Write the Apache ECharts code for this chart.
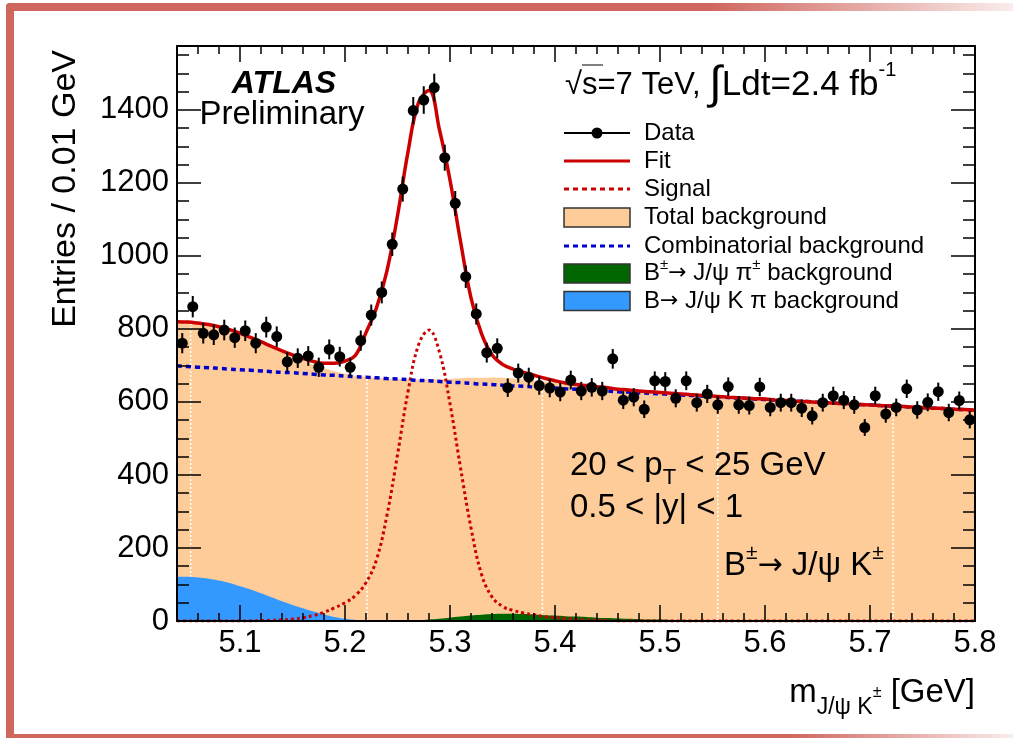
<!DOCTYPE html>
<html><head><meta charset="utf-8">
<script src="https://cdn.jsdelivr.net/npm/echarts@6/dist/echarts.min.js"></script>
<style>html,body{margin:0;padding:0;background:#fff}#c{width:1013px;height:738px}</style>
</head><body><div id="c"></div>
<script>
// ---------- data ----------
const binCenters = [5.045,5.055,5.065,5.075,5.085,5.095,5.105,5.115,5.125,5.135,5.145,5.155,5.165,5.175,5.185,5.195,5.205,5.215,5.225,5.235,5.245,5.255,5.265,5.275,5.285,5.295,5.305,5.315,5.325,5.335,5.345,5.355,5.365,5.375,5.385,5.395,5.405,5.415,5.425,5.435,5.445,5.455,5.465,5.475,5.485,5.495,5.505,5.515,5.525,5.535,5.545,5.555,5.565,5.575,5.585,5.595,5.605,5.615,5.625,5.635,5.645,5.655,5.665,5.675,5.685,5.695,5.705,5.715,5.725,5.735,5.745,5.755,5.765,5.775,5.785,5.795];
const entries = [761,861,788,784,797,776,795,761,805,779,710,720,726,695,744,724,695,768,838,900,1032,1183,1398,1427,1461,1269,1144,943,841,735,747,639,679,668,645,638,627,660,630,640,630,718,605,613,580,658,656,610,658,598,622,592,642,592,590,641,585,598,598,583,562,598,617,605,592,530,617,567,585,636,578,599,628,571,604,551];

const massGrid = [5.04,5.05,5.06,5.07,5.08,5.09,5.10,5.11,5.12,5.13,5.14,5.15,5.16,5.17,5.18,5.19,5.20,5.21,5.22,5.23,5.24,5.25,5.26,5.27,5.28,5.29,5.30,5.31,5.32,5.33,5.34,5.35,5.36,5.37,5.38,5.39,5.40,5.41,5.42,5.43,5.44,5.45,5.46,5.47,5.48,5.49,5.50,5.51,5.52,5.53,5.54,5.55,5.56,5.57,5.58,5.59,5.60,5.61,5.62,5.63,5.64,5.65,5.66,5.67,5.68,5.69,5.70,5.71,5.72,5.73,5.74,5.75,5.76,5.77,5.78,5.79,5.80];
const fitCurve = [820,819,816,812,806,798,788,777,765,752,740,729,719,711,706,706,712,728,790,858,960,1110,1285,1420,1453,1345,1208,1040,885,787,729,703,690,681,673,665,658,652,648,645,642,639,635,633,630,628,626,624,622,620,618,616,614,612,611,609,608,605,604,602,601,599,598,596,595,593,592,590,589,588,586,585,583,582,580,579,577];
const signalCurve = [0,0,0,0,0,0,0,0,1,2,3,5,9,15,24,36,50,70,105,168,290,455,628,756,797,736,595,420,255,128,66,40,29,22,17,12,9,7,5,3,2,1,0,0,0,0,0,0,0,0,0,0,0,0,0,0,0,0,0,0,0,0,0,0,0,0,0,0,0,0,0,0,0,0,0,0,0];
const combBkg = [699,697,695,694,692,690,688,687,685,683,681,680,678,676,674,673,671,669,668,666,664,663,661,659,658,656,654,653,651,649,648,646,644,643,641,640,638,636,635,633,632,630,628,627,625,624,622,621,619,618,616,614,613,611,610,608,607,605,604,602,601,599,598,596,595,593,592,590,589,588,586,585,583,582,580,579,577];
const kpiBkg = [121,121,119,116,111,104,95,86,76,65,54,44,35,26,18,11,6,3,1,0,0,0,0,0,0,0,0,0,0,0,0,0,0,0,0,0,0,0,0,0,0,0,0,0,0,0,0,0,0,0,0,0,0,0,0,0,0,0,0,0,0,0,0,0,0,0,0,0,0,0,0,0,0,0,0,0,0];
const jpsipiBkg = [0,0,0,0,0,0,0,0,0,0,0,0,0,0,0,0,0,0,0,0,0,0,1,2,4,6,9,12,15,17,19,20,20,19,18,16,15,13,12,11,9,8,7,6,5,4,4,3,3,2,2,2,1,1,1,1,1,0,0,0,0,0,0,0,0,0,0,0,0,0,0,0,0,0,0,0,0];
const gapLines = [5.053,5.221,5.388,5.555,5.722];

const xMajorTicks = [5.1,5.2,5.3,5.4,5.5,5.6,5.7,5.8];
const xMinorTicks = [5.06,5.08,5.10,5.12,5.14,5.16,5.18,5.20,5.22,5.24,5.26,5.28,5.30,5.32,5.34,5.36,5.38,5.40,5.42,5.44,5.46,5.48,5.50,5.52,5.54,5.56,5.58,5.60,5.62,5.64,5.66,5.68,5.70,5.72,5.74,5.76,5.78];
const yMajorTicks = [0,200,400,600,800,1000,1200,1400];
const yMinorTicks = [50,100,150,200,250,300,350,400,450,500,550,600,650,700,750,800,850,900,950,1000,1050,1100,1150,1200,1250,1300,1350,1400,1450,1500,1550];

// ---------- styling ----------
const FONT = "'Liberation Sans', Arial, Helvetica, sans-serif";
const ORANGE = '#FECC99', KPI = '#3399FF', GREEN = '#006600', RED = '#CC0000', BLUE = '#0000CC';
const XMIN = 5.04, XMAX = 5.8, YMIN = 0, YMAX = 1575;

function xAx(pos, ticks, len, labels, line) {
  return {
    type: 'value', min: XMIN, max: XMAX, position: pos, gridIndex: 0, z: 50,
    axisLine: { show: line, onZero: false, lineStyle: { color: '#000', width: 2 } },
    axisTick: { show: true, inside: true, length: len, customValues: ticks, lineStyle: { color: '#000', width: 1.5 } },
    axisLabel: labels ? { show: true, customValues: xMajorTicks, formatter: v => String(+(+v).toFixed(2)), fontSize: 31, color: '#000', fontFamily: FONT, margin: 7 } : { show: false },
    splitLine: { show: false }, minorTick: { show: false }, silent: true
  };
}
function yAx(pos, ticks, len, labels, line) {
  return {
    type: 'value', min: YMIN, max: YMAX, position: pos, gridIndex: 0, z: 50,
    axisLine: { show: line, onZero: false, lineStyle: { color: '#000', width: 2 } },
    axisTick: { show: true, inside: true, length: len, customValues: ticks, lineStyle: { color: '#000', width: 1.5 } },
    axisLabel: labels ? { show: true, customValues: yMajorTicks, formatter: v => String(Math.round(v)), fontSize: 31, color: '#000', fontFamily: FONT, margin: 8 } : { show: false },
    splitLine: { show: false }, minorTick: { show: false }, silent: true
  };
}

const curve = arr => massGrid.map((x, i) => [x, arr[i]]);
const totalBkg = combBkg.map((v, i) => v + kpiBkg[i] + jpsipiBkg[i]);

const chart = echarts.init(document.getElementById('c'), null, { renderer: 'canvas' });

const legendRows = [
  { y: 133, kind: 'data', text: 'Data' },
  { y: 161, kind: 'fit', text: 'Fit' },
  { y: 189, kind: 'sig', text: 'Signal' },
  { y: 217.5, kind: 'box', color: ORANGE, text: 'Total background' },
  { y: 246, kind: 'comb', text: 'Combinatorial background' },
  { y: 273.5, kind: 'box', color: GREEN, text: '{t|B}{sup|±}{a|→}{t| J/ψ π}{sup|±}{t| background}' },
  { y: 301, kind: 'box', color: KPI, text: '{t|B}{a|→}{t| J/ψ K π background}' }
];
const legendRich = {
  t: { fontSize: 24, fontFamily: FONT, lineHeight: 32, verticalAlign: 'middle' },
  a: { fontSize: 22, fontFamily: "'DejaVu Sans', sans-serif", lineHeight: 32, verticalAlign: 'middle' },
  sup: { fontSize: 15, fontFamily: FONT, lineHeight: 15, verticalAlign: 'top' }
};
const LX0 = 564, LX1 = 630, LTX = 644;
const legendEls = [];
legendRows.forEach(r => {
  if (r.kind === 'data') {
    legendEls.push({ type: 'line', shape: { x1: LX0, y1: r.y, x2: LX1, y2: r.y }, style: { stroke: '#000', lineWidth: 2 } });
    legendEls.push({ type: 'circle', shape: { cx: (LX0 + LX1) / 2, cy: r.y, r: 5.5 }, style: { fill: '#000' } });
  } else if (r.kind === 'fit') {
    legendEls.push({ type: 'line', shape: { x1: LX0, y1: r.y, x2: LX1, y2: r.y }, style: { stroke: RED, lineWidth: 3 } });
  } else if (r.kind === 'sig') {
    legendEls.push({ type: 'line', shape: { x1: LX0, y1: r.y, x2: LX1, y2: r.y }, style: { stroke: RED, lineWidth: 3, lineDash: [5, 4] } });
  } else if (r.kind === 'comb') {
    legendEls.push({ type: 'line', shape: { x1: LX0, y1: r.y, x2: LX1, y2: r.y }, style: { stroke: BLUE, lineWidth: 3, lineDash: [5, 4] } });
  } else {
    legendEls.push({ type: 'rect', shape: { x: LX0, y: r.y - 9.5, width: LX1 - LX0, height: 19 }, style: { fill: r.color, stroke: '#333', lineWidth: 1.5 } });
  }
  const isRich = r.text.indexOf('{') === 0;
  legendEls.push({ type: 'text', x: LTX, y: r.y, style: {
    text: r.text, fontSize: 24, fontFamily: FONT, fill: '#000',
    align: 'left', textAlign: 'left', verticalAlign: 'middle', textVerticalAlign: 'middle',
    rich: isRich ? legendRich : undefined } });
});

const frameColor = '#D0675F';
const fadeGrad = (start) => new echarts.graphic.LinearGradient(0, 0, 1, 0, [
  { offset: 0, color: frameColor }, { offset: start, color: frameColor }, { offset: 1, color: 'rgba(208,103,95,0.12)' }]);

const graphicEls = [
  { type: 'rect', shape: { x: 6, y: 3, width: 8, height: 735, r: [4, 0, 0, 0] }, style: { fill: frameColor } },
  { type: 'rect', shape: { x: 6, y: 3, width: 1007, height: 8, r: [4, 0, 0, 0] }, style: { fill: fadeGrad(0.7) } },
  { type: 'rect', shape: { x: 6, y: 734, width: 1007, height: 4 }, style: { fill: fadeGrad(0.78) } },
  // ATLAS Preliminary
  { type: 'text', x: 284, y: 84, style: { text: 'ATLAS', fontSize: 32, fontWeight: 'bold', fontStyle: 'italic', fontFamily: FONT, fill: '#000', align: 'center', textAlign: 'center', verticalAlign: 'middle', textVerticalAlign: 'middle' } },
  { type: 'text', x: 282, y: 115, style: { text: 'Preliminary', fontSize: 33, fontFamily: FONT, fill: '#000', align: 'center', textAlign: 'center', verticalAlign: 'middle', textVerticalAlign: 'middle' } },
  // energy / luminosity
  { type: 'text', x: 565, y: 85, style: {
    text: '{t|√s=7 TeV, }{i|∫}{u|Ldt=2.4 fb}{sup|-1}', fill: '#000',
    align: 'left', textAlign: 'left', verticalAlign: 'middle', textVerticalAlign: 'middle',
    rich: {
      t: { fontSize: 31, fontFamily: FONT, lineHeight: 50, verticalAlign: 'middle' },
      u: { fontSize: 35, fontFamily: FONT, lineHeight: 50, verticalAlign: 'middle' },
      i: { fontSize: 46, fontFamily: FONT, lineHeight: 50, verticalAlign: 'middle' },
      sup: { fontSize: 20, fontFamily: FONT, lineHeight: 20, verticalAlign: 'top' }
    } } },
  { type: 'line', shape: { x1: 582, y1: 65, x2: 603, y2: 65 }, style: { stroke: '#000', lineWidth: 1 } },
  // kinematic cuts
  { type: 'text', x: 570, y: 466, style: {
    text: '{t|20 < p}{sub|T}{t| < 25 GeV}', fill: '#000',
    align: 'left', textAlign: 'left', verticalAlign: 'middle', textVerticalAlign: 'middle',
    rich: { t: { fontSize: 33, fontFamily: FONT, lineHeight: 46, verticalAlign: 'middle' },
            sub: { fontSize: 22, fontFamily: FONT, lineHeight: 22, verticalAlign: 'bottom' } } } },
  { type: 'text', x: 570, y: 508, style: { text: '0.5 < |y| < 1', fontSize: 33, fontFamily: FONT, fill: '#000', align: 'left', textAlign: 'left', verticalAlign: 'middle', textVerticalAlign: 'middle' } },
  { type: 'text', x: 724, y: 566, style: {
    text: '{t|B}{sup|±}{a|→}{t| J/ψ K}{sup|±}', fill: '#000',
    align: 'left', textAlign: 'left', verticalAlign: 'middle', textVerticalAlign: 'middle',
    rich: { t: { fontSize: 33, fontFamily: FONT, lineHeight: 46, verticalAlign: 'middle' },
            a: { fontSize: 30, fontFamily: "'DejaVu Sans', sans-serif", lineHeight: 46, verticalAlign: 'middle' },
            sup: { fontSize: 21, fontFamily: FONT, lineHeight: 21, verticalAlign: 'top' } } } },
  // axis titles
  { type: 'text', x: 66, y: 50, rotation: Math.PI / 2, style: { text: 'Entries / 0.01 GeV', fontSize: 34, fontFamily: FONT, fill: '#000', align: 'right', textAlign: 'right', verticalAlign: 'middle', textVerticalAlign: 'middle' } },
  { type: 'text', x: 975, y: 693, style: {
    text: '{m|m}{s|J/ψ K}{ss|±}{m| [GeV]}', fill: '#000',
    align: 'right', textAlign: 'right', verticalAlign: 'middle', textVerticalAlign: 'middle',
    rich: { m: { fontSize: 33, fontFamily: FONT, lineHeight: 52, verticalAlign: 'middle' },
            s: { fontSize: 23, fontFamily: FONT, lineHeight: 23, verticalAlign: 'bottom' },
            ss: { fontSize: 16, fontFamily: FONT, lineHeight: 16, verticalAlign: 'middle' } } } }
].concat(legendEls);

const option = {
  animation: false,
  backgroundColor: '#fff',
  grid: { left: 177, right: 38, top: 46, bottom: 117, containLabel: false, outerBoundsMode: 'none' },
  xAxis: [ xAx('bottom', xMajorTicks, 16, true, true), xAx('bottom', xMinorTicks, 8, false, false),
           xAx('top', xMajorTicks, 16, false, true), xAx('top', xMinorTicks, 8, false, false) ],
  yAxis: [ yAx('left', yMajorTicks, 24, true, true), yAx('left', yMinorTicks, 12, false, false),
           yAx('right', yMajorTicks, 24, false, true), yAx('right', yMinorTicks, 12, false, false) ],
  series: [
    { type: 'line', name: 'Total background', z: 2, data: curve(totalBkg), smooth: 0.4, showSymbol: false, silent: true,
      lineStyle: { width: 0 }, areaStyle: { color: ORANGE, opacity: 1 } },
    { type: 'custom', name: 'gaps', z: 3, data: gapLines.map(x => [x]), silent: true,
      renderItem: (params, api) => {
        const p0 = api.coord([api.value(0), YMIN]); const p1 = api.coord([api.value(0), YMAX]);
        return { type: 'line', shape: { x1: p0[0], y1: p0[1], x2: p1[0], y2: p1[1] }, style: { stroke: '#fff', lineWidth: 1.5, lineDash: [2, 2] } };
      } },
    { type: 'line', name: 'B→J/ψKπ', z: 4, data: curve(kpiBkg), smooth: 0.4, showSymbol: false, silent: true,
      lineStyle: { width: 0 }, areaStyle: { color: KPI, opacity: 1 } },
    { type: 'line', name: 'B→J/ψπ', z: 5, data: curve(jpsipiBkg), smooth: 0.4, showSymbol: false, silent: true,
      lineStyle: { width: 0 }, areaStyle: { color: GREEN, opacity: 1 } },
    { type: 'line', name: 'Signal', z: 6, data: curve(signalCurve), smooth: 0.4, showSymbol: false, silent: true,
      lineStyle: { color: RED, width: 3, type: [3, 3] } },
    { type: 'line', name: 'Combinatorial', z: 7, data: curve(combBkg), smooth: true, showSymbol: false, silent: true,
      lineStyle: { color: BLUE, width: 3.5, type: [5, 4] } },
    { type: 'line', name: 'Fit', z: 8, data: curve(fitCurve), smooth: 0.4, showSymbol: false, silent: true,
      lineStyle: { color: RED, width: 3.5 } },
    { type: 'custom', name: 'Data', z: 10, data: binCenters.map((x, i) => [x, entries[i]]), silent: true, clip: false,
      renderItem: (params, api) => {
        const x = api.value(0), y = api.value(1), e = Math.sqrt(y);
        const p = api.coord([x, y]), hi = api.coord([x, y + e]), lo = api.coord([x, y - e]);
        return { type: 'group', children: [
          { type: 'line', shape: { x1: p[0], y1: hi[1], x2: p[0], y2: lo[1] }, style: { stroke: '#000', lineWidth: 2 } },
          { type: 'circle', shape: { cx: p[0], cy: p[1], r: 5.5 }, style: { fill: '#000' } }
        ] };
      } }
  ],
  graphic: { elements: graphicEls.map(e => Object.assign({ z: 100 }, e)) }
};
chart.setOption(option);
</script></body></html>
